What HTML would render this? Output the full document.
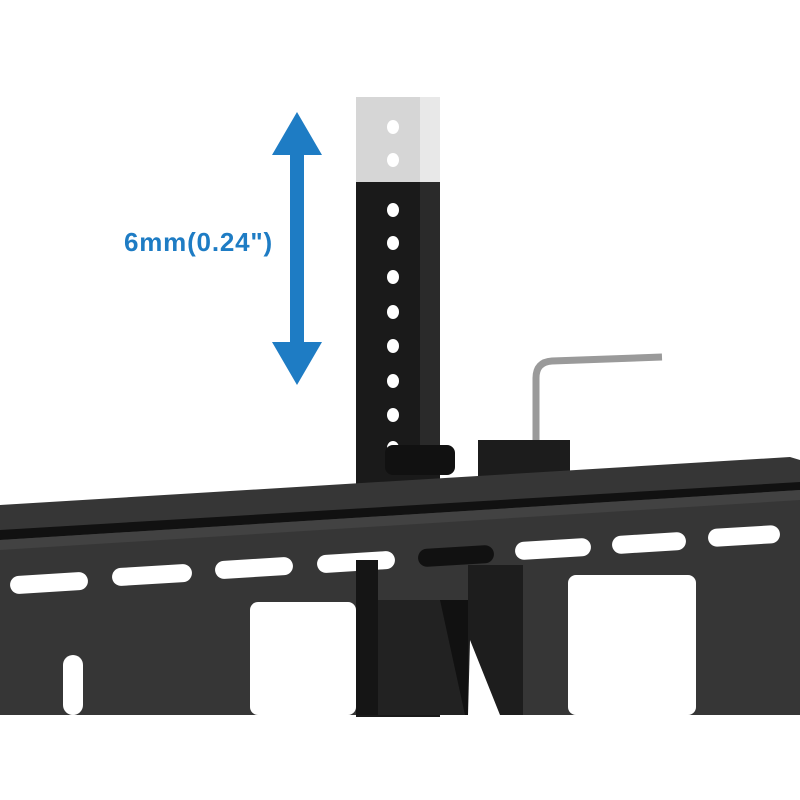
<!DOCTYPE html>
<html><head><style>body{margin:0;background:#fff}svg{display:block}</style></head><body>
<svg width="800" height="800" viewBox="0 0 800 800" xmlns="http://www.w3.org/2000/svg">
<rect width="800" height="800" fill="#fff"/>
<rect x="356" y="97" width="84" height="620" fill="#1a1a1a"/>
<rect x="356" y="97" width="84" height="85" fill="#d6d6d6"/>
<rect x="420" y="97" width="20" height="85" fill="#e8e8e8"/>
<rect x="420" y="182" width="20" height="280" fill="#2a2a2a"/>
<g fill="#fff">
<ellipse cx="393" cy="127" rx="6" ry="7"/><ellipse cx="393" cy="160" rx="6" ry="7"/>
<ellipse cx="393" cy="210" rx="6" ry="7"/><ellipse cx="393" cy="243" rx="6" ry="7"/>
<ellipse cx="393" cy="277" rx="6" ry="7"/><ellipse cx="393" cy="312" rx="6" ry="7"/>
<ellipse cx="393" cy="346" rx="6" ry="7"/><ellipse cx="393" cy="381" rx="6" ry="7"/>
<ellipse cx="393" cy="415" rx="6" ry="7"/><ellipse cx="393" cy="448" rx="6" ry="7"/>
</g>
<rect x="385" y="445" width="70" height="30" rx="8" fill="#111"/>
<path d="M536 445 L536 378 Q536 362 552 361 L662 357" fill="none" stroke="#9a9a9a" stroke-width="7"/>
<rect x="478" y="440" width="92" height="55" fill="#1c1c1c"/>
<polygon points="0,505 790,457 800,460 800,715 0,715" fill="#363636"/>
<polygon points="0,530 800,482 800,490 0,540" fill="#111"/>
<polygon points="0,540 800,490 800,500 0,550" fill="#424242"/>
<g fill="#fff">
<rect x="10" y="574" width="78" height="18" rx="9" transform="rotate(-3.5 49 583)"/>
<rect x="112" y="566" width="80" height="18" rx="9" transform="rotate(-3.5 152 575)"/>
<rect x="215" y="559" width="78" height="18" rx="9" transform="rotate(-3.5 254 568)"/>
<rect x="317" y="553" width="78" height="18" rx="9" transform="rotate(-3.5 356 562)"/>
<rect x="515" y="540" width="76" height="18" rx="9" transform="rotate(-3.5 553 549)"/>
<rect x="612" y="534" width="74" height="18" rx="9" transform="rotate(-3.5 649 543)"/>
<rect x="708" y="527" width="72" height="18" rx="9" transform="rotate(-3.5 744 536)"/>
<rect x="250" y="602" width="106" height="113" rx="8"/>
<rect x="568" y="575" width="128" height="140" rx="8"/>
<rect x="63" y="655" width="20" height="60" rx="10"/>
</g>
<rect x="418" y="547" width="76" height="18" rx="9" fill="#111" transform="rotate(-3.5 456 556)"/>
<rect x="356" y="560" width="22" height="155" fill="#151515"/>
<rect x="378" y="600" width="90" height="115" fill="#222"/>
<polygon points="440,600 470,600 490,715 465,715" fill="#111"/>
<rect x="468" y="565" width="55" height="150" fill="#1d1d1d"/>
<polygon points="470,640 500,715 468,715" fill="#fff"/>
<polygon points="297,112 322,155 304,155 304,342 322,342 297,385 272,342 290,342 290,155 272,155" fill="#1e7cc4"/>
<text x="124" y="251" font-family="Liberation Sans, sans-serif" font-weight="bold" font-size="26" letter-spacing="0.8" fill="#1e7cc4">6mm(0.24")</text>
</svg>
</body></html>
